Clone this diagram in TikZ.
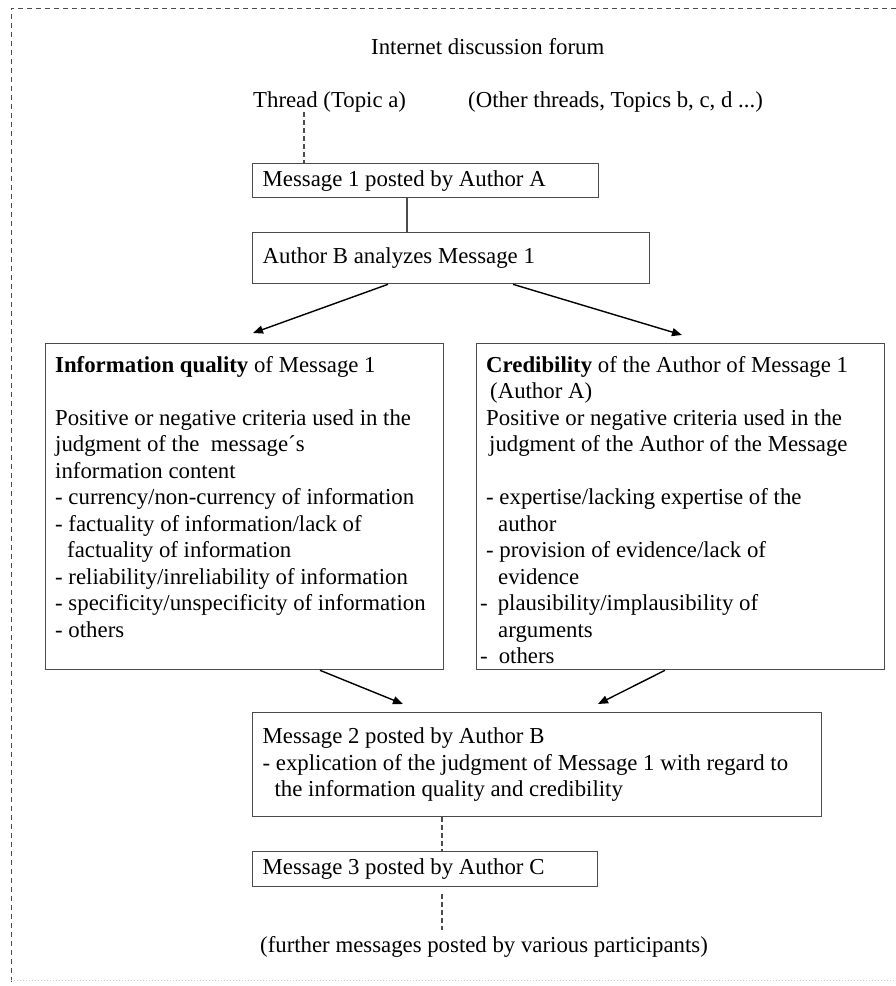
\documentclass[tikz,border=0pt]{standalone}
\usepackage{fontspec}
\setmainfont{Liberation Serif}
\usetikzlibrary{arrows.meta}
\newcommand{\hangin}{\hspace*{12pt}}

\begin{document}
\begin{tikzpicture}[x=1pt,y=-1pt,
  font=\fontsize{22.8pt}{26.5pt}\selectfont,
  box/.style={draw=black!70,line width=1.3pt,anchor=north west,align=left,inner xsep=10pt,inner ysep=0pt,
    execute at begin node={\spaceskip=0pt\xspaceskip=0pt\relax}},
  boxtext/.style={anchor=north west,align=left,inner sep=0pt},
  plain/.style={anchor=base west,inner sep=0pt},
  arr/.style={line width=1.4pt,-{Triangle[length=10pt,width=8pt]}},
  link/.style={draw=black!70,line width=1.2pt},
  dashlink/.style={link,dash pattern=on 5pt off 3pt}]
\useasboundingbox (0,0) rectangle (896,986);
% frame of the forum
\draw[black!70,line width=1pt,dash pattern=on 5pt off 4pt] (896,8) -- (11,8) -- (11,986);
\draw[black!20,line width=1pt,dotted] (11,980) -- (896,980);

\node[plain] (forum) at (371,54) {Internet discussion forum};
\node[plain] (thread) at (253,107) {Thread (Topic a)};
\node[plain] (others) at (468,107) {(Other threads, Topics b, c, d ...)};

\node[box,text width=326pt,minimum height=34pt] (msg1) at (252,163) {Message 1 posted by Author A};
\node[box,text width=377pt,minimum height=51pt] (analyze) at (252,232) {Author B analyzes Message 1};

% the two judgments of message 1
\node[box,minimum width=398pt,minimum height=326pt] (quality) at (45,343) {};
\node[boxtext] (qualitytxt) at ([xshift=10pt,yshift=-13pt]quality.north west)
  {\textbf{Information quality} of Message 1\\[26.5pt]
   Positive or negative criteria used in the\\
   judgment of the\ \ message´s\\
   information content\\
   - currency/non-currency of information\\
   - factuality of information/lack of\\
   \hangin factuality of information\\
   - reliability/inreliability of information\\
   - specificity/unspecificity of information\\
   - others};
\node[box,minimum width=408pt,minimum height=326pt] (credib) at (476,343) {};
\node[boxtext] (credibtxt) at ([xshift=10pt,yshift=-13pt]credib.north west)
  {\textbf{Credibility} of the Author of Message 1\\
   \hspace*{4pt}(Author A)\\
   Positive or negative criteria used in the\\
   \hspace*{3pt}judgment of the Author of the Message\\[26.5pt]
   - expertise/lacking expertise of the\\
   \hangin author\\
   - provision of evidence/lack of\\
   \hangin evidence\\
   \hspace*{-6pt}-\hspace*{10pt}plausibility/implausibility of\\
   \hangin arguments\\
   \hspace*{-6pt}-\hspace*{11pt}others};

\node[box,text width=549pt,minimum height=104pt] (msg2) at (252,712)
  {Message 2 posted by Author B\\
   - explication of the judgment of Message 1 with regard to\\
   \hangin the information quality and credibility};
\node[box,text width=325pt,minimum height=35pt] (msg3) at (252,851) {Message 3 posted by Author C};
\node[plain] (further) at (260,952) {(further messages posted by various participants)};

% connectors
\draw[dashlink] ([xshift=51pt]thread.south west) -- ([xshift=51pt]thread.south west |- msg1.north);
\draw[link] ([xshift=155pt]msg1.south west) -- ([xshift=155pt]msg1.south west |- analyze.north);
\draw[arr] ([xshift=136pt]analyze.south west) -- ([xshift=208pt,yshift=10pt]quality.north west);
\draw[arr] ([xshift=261pt]analyze.south west) -- ([xshift=206pt,yshift=8pt]credib.north west);
\draw[arr] ([xshift=275pt]quality.south west) -- ([xshift=151pt,yshift=8pt]msg2.north west);
\draw[arr] ([xshift=189pt]credib.south west) -- ([xshift=346pt,yshift=8pt]msg2.north west);
\draw[dashlink] ([xshift=190pt]msg2.south west) -- ([xshift=190pt]msg2.south west |- msg3.north);
\draw[dashlink] ([xshift=190pt,yshift=-7pt]msg3.south west) -- ([xshift=190pt,yshift=6pt]msg3.south west |- further.north);
\end{tikzpicture}
\end{document}
